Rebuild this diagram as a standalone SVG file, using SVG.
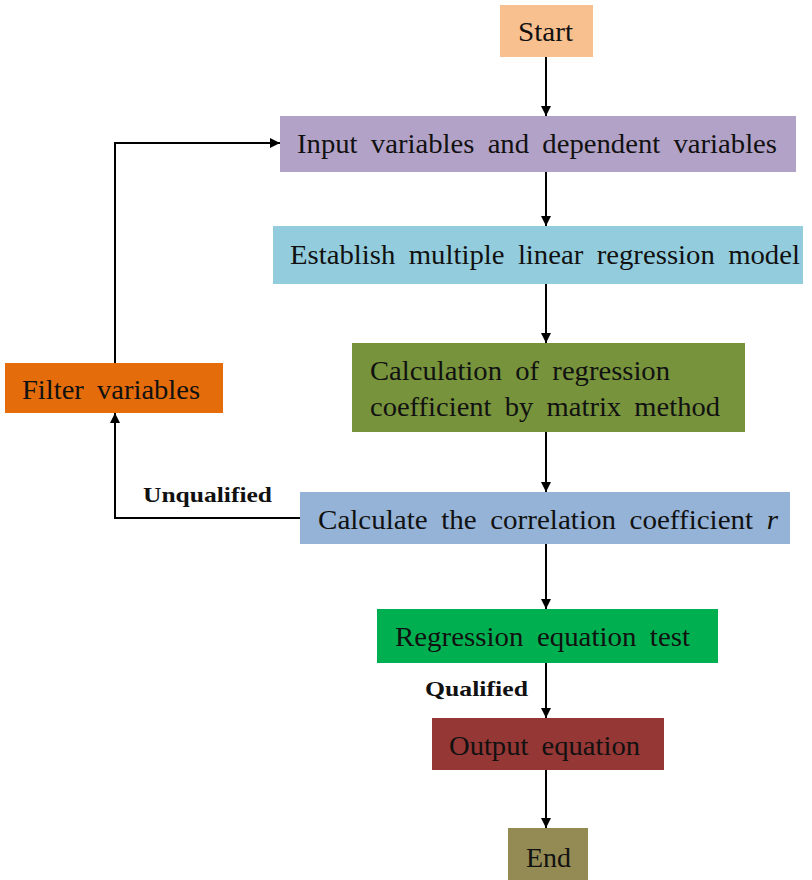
<svg xmlns="http://www.w3.org/2000/svg" width="812" height="880" viewBox="0 0 812 880">
<defs>
<marker id="ah" viewBox="0 0 10 10" refX="10" refY="5" markerWidth="10" markerHeight="10" markerUnits="userSpaceOnUse" orient="auto">
<path d="M0,0 L10,5 L0,10 Z" fill="#000"/>
</marker>
</defs>
<style>
.t{font-family:"Liberation Serif","Times New Roman",serif;font-size:28px;fill:#111;word-spacing:6px}
.b{font-family:"Liberation Serif","Times New Roman",serif;font-size:22px;font-weight:bold;fill:#111}
.c{fill:none;stroke:#000;stroke-width:2;marker-end:url(#ah)}
</style>
<rect width="812" height="880" fill="#fff"/>
<g id="start"><rect x="500" y="5" width="93" height="52" fill="#F9C08F"/><text class="t" x="518" y="41" textLength="55" lengthAdjust="spacingAndGlyphs">Start</text></g>
<g id="input"><rect x="280" y="116" width="516" height="56" fill="#B3A2C7"/><text class="t" x="297" y="153" textLength="480" lengthAdjust="spacingAndGlyphs">Input variables and dependent variables</text></g>
<g id="establish"><rect x="273" y="226" width="530" height="58" fill="#93CDDD"/><text class="t" x="290" y="264" textLength="510" lengthAdjust="spacingAndGlyphs">Establish multiple linear regression model</text></g>
<g id="calc"><rect x="352" y="343" width="393" height="89" fill="#77933C"/><text class="t" x="370" y="380" textLength="300" lengthAdjust="spacingAndGlyphs">Calculation of regression</text><text class="t" x="370" y="416" textLength="350" lengthAdjust="spacingAndGlyphs">coefficient by matrix method</text></g>
<g id="filter"><rect x="5" y="363" width="218" height="50" fill="#E46C0A"/><text class="t" x="22" y="399" textLength="178" lengthAdjust="spacingAndGlyphs">Filter variables</text></g>
<g id="corr"><rect x="300" y="492" width="490" height="52" fill="#95B3D7"/><text class="t" x="318" y="529" textLength="460" lengthAdjust="spacingAndGlyphs">Calculate the correlation coefficient <tspan font-style="italic">r</tspan></text></g>
<g id="test"><rect x="377" y="609" width="341" height="54" fill="#00B050"/><text class="t" x="395" y="646" textLength="295" lengthAdjust="spacingAndGlyphs">Regression equation test</text></g>
<g id="output"><rect x="432" y="718" width="232" height="52" fill="#953735"/><text class="t" x="449" y="755" textLength="191" lengthAdjust="spacingAndGlyphs">Output equation</text></g>
<g id="end"><rect x="508" y="828" width="80" height="52" fill="#948A54"/><text class="t" x="526" y="867" textLength="45" lengthAdjust="spacingAndGlyphs">End</text></g>
<g id="connectors">
<path class="c" d="M546,57 V116"/>
<path class="c" d="M546,172 V226"/>
<path class="c" d="M546,284 V343"/>
<path class="c" d="M546,432 V492"/>
<path class="c" d="M546,544 V609"/>
<path class="c" d="M546,663 V718"/>
<path class="c" d="M546,770 V828"/>
<path class="c" d="M300,518 H115 V413"/>
<path class="c" d="M115,363 V143 H280"/>
<text class="b" x="143" y="502" textLength="129" lengthAdjust="spacingAndGlyphs">Unqualified</text>
<text class="b" x="425" y="696" textLength="103" lengthAdjust="spacingAndGlyphs">Qualified</text>
</g>
</svg>
